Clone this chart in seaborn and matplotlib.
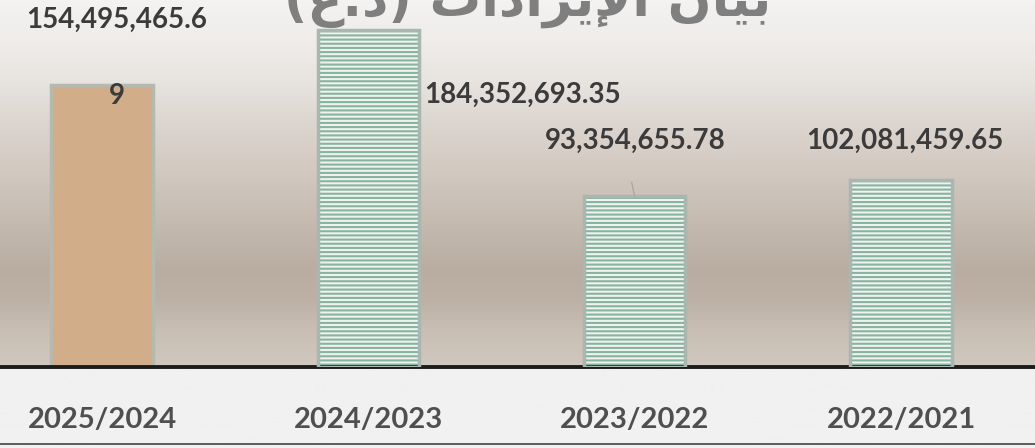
import numpy as np
import pandas as pd
import seaborn as sns
import matplotlib.pyplot as plt
from matplotlib.colors import LinearSegmentedColormap
from matplotlib.patches import Rectangle
from matplotlib.lines import Line2D

# donnees
years = ["2025/2024", "2024/2023", "2023/2022", "2022/2021"]
revenue = [154495465.69, 184352693.35, 93354655.78, 102081459.65]
bar_colors = ["#d2ad89", "#eef3f0", "#eef3f0", "#eef3f0"]

# "بيان الإيرادات (د.ع)" en formes de presentation, ordre visuel (matplotlib ne fait pas le bidi)
title = "(\uFEC9.\uFEA9) \uFE95\uFE8D\uFEA9\uFE8D\uFEAE\uFEF3\uFEF9\uFE8D \uFEE5\uFE8E\uFEF4\uFE91"

df = pd.DataFrame({"year": years, "revenue": revenue})

sns.set_theme(style="white")
plt.rcParams["font.family"] = ["Lato", "DejaVu Sans"]
plt.rcParams["hatch.linewidth"] = 1.5

W, H = 1035, 448
fig = plt.figure(figsize=(W / 100, H / 100), dpi=100)

# fond degrade
bg = fig.add_axes([0, 0, 1, 1], zorder=0)
bg.axis("off")
stops = [(0, "#f4f3f1"), (40, "#efecea"), (80, "#e8e4e0"), (120, "#ddd7d1"),
         (170, "#d2c9c1"), (220, "#c5bbb1"), (270, "#b9ada2"), (300, "#bdb1a6"),
         (330, "#c8beb4"), (366, "#d0c7be"), (368, "#f1f1f1"), (H, "#f1f1f1")]
cmap = LinearSegmentedColormap.from_list("fond", [(y / H, c) for y, c in stops])
bg.imshow(np.linspace(0, 1, H).reshape(-1, 1), cmap=cmap, aspect="auto",
          extent=[0, 1, 0, 1], origin="upper")
bg.set_xlim(0, 1)
bg.set_ylim(0, 1)

# barres
base = 367
ax = fig.add_axes([0, (H - base) / H, 1, base / H], zorder=1)
ax.patch.set_alpha(0)
sns.barplot(data=df, x="year", y="revenue", hue="year", palette=bar_colors,
            legend=False, width=0.38, saturation=1, ax=ax)

for i, p in enumerate(ax.patches):
    if i == 0:
        p.set_edgecolor("#b5b9ae")
        p.set_linewidth(2.5)
    else:
        p.set_hatch("----")
        p.set_edgecolor("#88b3a0")
        p.set_linewidth(0)
        ax.add_patch(Rectangle((p.get_x(), p.get_y()), p.get_width(), p.get_height(),
                               fill=False, ec="#aab7b1", lw=2.5, zorder=3))

ax.set_ylim(0, 200.8e6)
ax.set_xlim(-0.383, 3.503)
ax.set_xlabel("")
ax.set_ylabel("")
ax.set_yticks([])
for s in ["top", "left", "right"]:
    ax.spines[s].set_visible(False)
ax.spines["bottom"].set_color("#1c1c1c")
ax.spines["bottom"].set_linewidth(2.8)
ax.tick_params(axis="x", length=0, pad=29, labelsize=21, labelcolor="#4f4f4f")
for lbl in ax.get_xticklabels():
    lbl.set_fontweight("bold")

# etiquettes de valeurs
lab = dict(textcoords="offset pixels", fontsize=20, fontweight="bold", color="#3b3b3b")
txt = [f"{v:,.2f}" for v in revenue]
ax.annotate(txt[0][:-1], xy=(0, revenue[0]), xytext=(15, 65), ha="center", va="center", **lab)
ax.annotate(txt[0][-1], xy=(0, revenue[0]), xytext=(15, -11), ha="center", va="center", **lab)
ax.annotate(txt[1], xy=(1, revenue[1]), xytext=(56, -65), ha="left", va="center", **lab)
ax.annotate(txt[2], xy=(2, revenue[2]), xytext=(1, 56), ha="center", va="center", **lab)
ax.annotate("", xy=(2, revenue[2]), xytext=(-3, 14), textcoords="offset pixels",
            arrowprops=dict(arrowstyle="-", color="#a8a8a8", lw=1, shrinkA=0, shrinkB=0))
ax.annotate(txt[3], xy=(3, revenue[3]), xytext=(4, 40), ha="center", va="center", **lab)

# titre coupe en haut
fig.text(527.5 / W, 1 - 16 / H, title, ha="center", va="baseline", fontsize=37,
         fontweight="bold", color="#7f7f7f", family=["DejaVu Sans"])

# ligne du bas
fig.add_artist(Line2D([0, 1], [4.5 / H, 4.5 / H], transform=fig.transFigure,
                      color="#444444", lw=1.2, zorder=11))

fig.savefig("out.png", dpi=100)
